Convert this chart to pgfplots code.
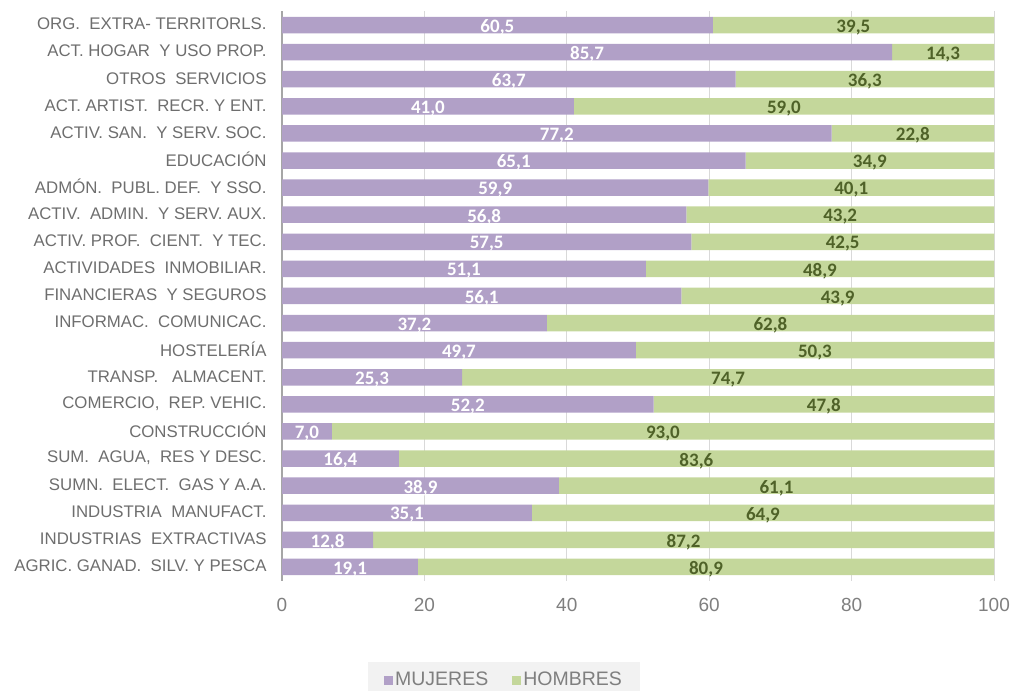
\documentclass[border=0pt]{standalone}
\usepackage{fontspec}
\setmainfont{Liberation Sans}
\newfontfamily\carlito{Carlito}
\usepackage{pgfplots}
\usepackage{pgfplotstable}
\pgfplotsset{compat=1.18}
\definecolor{mcol}{HTML}{B1A0C7}
\definecolor{hcol}{HTML}{C4D79B}
\definecolor{hlab}{HTML}{4F6228}
\definecolor{txt}{HTML}{6E6E6E}
\definecolor{tick}{HTML}{7F7F7F}
\definecolor{gridc}{HTML}{D9D9D9}
\definecolor{axc}{HTML}{A6A6A6}
\definecolor{legbg}{HTML}{F2F2F2}
\pgfplotstableread{
y m h
0 19.1 80.9
1 12.8 87.2
2 35.1 64.9
3 38.9 61.1
4 16.4 83.6
5 7.0 93.0
6 52.2 47.8
7 25.3 74.7
8 49.7 50.3
9 37.2 62.8
10 56.1 43.9
11 51.1 48.9
12 57.5 42.5
13 56.8 43.2
14 59.9 40.1
15 65.1 34.9
16 77.2 22.8
17 41.0 59.0
18 63.7 36.3
19 85.7 14.3
20 60.5 39.5
}\data
\tikzset{centerlab/.style={anchor=center, font=\carlito\bfseries\fontsize{19bp}{20bp}\selectfont, yshift=-2.2bp}}
\begin{document}
\begin{tikzpicture}
\path[use as bounding box] (0,0) rectangle (1011bp,691bp);
\begin{axis}[
  at={(282bp,110.5bp)}, anchor=south west,
  width=712bp, height=569bp, scale only axis,
  xbar stacked, bar width=16.5bp,
  xmin=0, xmax=100, ymin=-0.5, ymax=20.5,
  xtick={0,20,...,100},
  ytick={0,...,20},
  yticklabels={
    AGRIC.\ GANAD.\ \ SILV.\ Y PESCA,
    INDUSTRIAS\ \ EXTRACTIVAS,
    INDUSTRIA\ \ MANUFACT.,
    SUMN.\ \ ELECT.\ \ GAS Y A.A.,
    {SUM.\ \ AGUA,\ \ RES Y DESC.},
    CONSTRUCCIÓN,
    {COMERCIO,\ \ REP.\ VEHIC.},
    TRANSP.\ \ \ ALMACENT.,
    HOSTELERÍA,
    INFORMAC.\ \ COMUNICAC.,
    FINANCIERAS\ \ Y SEGUROS,
    ACTIVIDADES\ \ INMOBILIAR.,
    ACTIV.\ PROF.\ \ CIENT.\ \ Y TEC.,
    ACTIV.\ \ ADMIN.\ \ Y SERV.\ AUX.,
    ADMÓN.\ \ PUBL.\ DEF.\ \ Y SSO.,
    EDUCACIÓN,
    ACTIV.\ SAN.\ \ Y SERV.\ SOC.,
    ACT.\ ARTIST.\ \ RECR.\ Y ENT.,
    OTROS\ \ SERVICIOS,
    ACT.\ HOGAR\ \ Y USO PROP.,
    ORG.\ \ EXTRA- TERRITORLS.
  },
  /pgf/number format/assume math mode=true,
  yticklabel style={font=\fontsize{16.8bp}{18bp}\selectfont, text=txt, xshift=-12bp, yshift=1bp},
  xticklabel style={font=\fontsize{19bp}{21bp}\selectfont, text=tick, yshift=-14bp},
  major tick length=0pt,
  xmajorgrids, major grid style={gridc, line width=1bp},
  separate axis lines,
  axis x line*=bottom, axis y line*=left,
  x axis line style={draw=none},
  y axis line style={draw=axc, line width=2bp, -},
  legend style={at={(0.3118,-0.1432)}, anchor=north, legend columns=2,
    fill=legbg, draw=none, font=\fontsize{19.5bp}{21bp}\selectfont, text=tick,
    inner xsep=16bp, inner ysep=8bp,
    /tikz/every even column/.append style={column sep=22bp}},
  legend image code/.code={\fill[#1] (0bp,-5bp) rectangle (9bp,4bp);},
  point meta=explicit,
  nodes near coords={\pgfmathprintnumber[fixed,fixed zerofill,precision=1,use comma]{\pgfplotspointmeta}},
]
\addplot[fill=mcol, draw=none,
  every node near coord/.style={centerlab, text=white}]
  table[x=m, y=y, meta=m] {\data};
\addlegendentry{MUJERES}
\addplot[fill=hcol, draw=none,
  every node near coord/.style={centerlab, text=hlab}]
  table[x=h, y=y, meta=h] {\data};
\addlegendentry{HOMBRES}
\end{axis}
\end{tikzpicture}
\end{document}
